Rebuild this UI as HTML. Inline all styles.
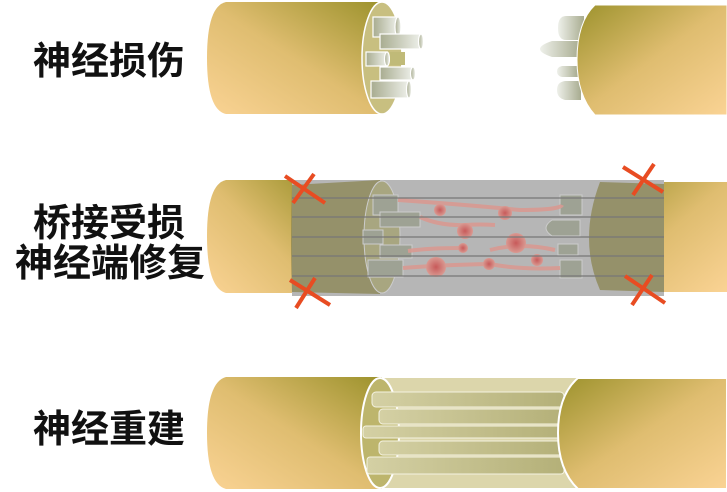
<!DOCTYPE html>
<html><head><meta charset="utf-8"><style>
html,body{margin:0;padding:0;background:#fff;width:727px;height:492px;overflow:hidden}
svg{display:block}
text{font-family:"Liberation Sans","Noto Sans CJK SC",sans-serif;font-weight:bold;font-size:38px;fill:#111}
</style></head><body>
<svg width="727" height="492" viewBox="0 0 727 492">
<defs>
<linearGradient id="nL" x1="0" y1="1" x2="1" y2="0"><stop offset="0" stop-color="#fad394"/><stop offset="0.5" stop-color="#dfbd70"/><stop offset="1" stop-color="#9c922c"/></linearGradient>
<linearGradient id="nR" x1="0" y1="0" x2="1" y2="1"><stop offset="0" stop-color="#9c922c"/><stop offset="0.5" stop-color="#dfbd70"/><stop offset="1" stop-color="#fad394"/></linearGradient>
<linearGradient id="fib" x1="0" y1="0" x2="1" y2="0"><stop offset="0" stop-color="#a8ac90"/><stop offset="1" stop-color="#eef0ea"/></linearGradient>
<linearGradient id="fibR" x1="0" y1="0" x2="1" y2="0"><stop offset="0" stop-color="#eef0ea"/><stop offset="1" stop-color="#a8ac90"/></linearGradient>
<linearGradient id="bfib" x1="0" y1="0" x2="1" y2="0"><stop offset="0" stop-color="#d4d0a4"/><stop offset="1" stop-color="#b4b078"/></linearGradient>
<radialGradient id="cell"><stop offset="0" stop-color="#c85a5a"/><stop offset="1" stop-color="#d99a92"/></radialGradient>
</defs>

<text x="33" y="74">神经损伤</text>
<text x="33" y="236">桥接受损</text>
<text x="15" y="276">神经端修复</text>
<text x="33" y="442">神经重建</text>

<!-- Top row -->
<g>
<path d="M226,2 L382,2 L382,114 L226,114 Q207,110 207,58 Q207,6 226,2Z" fill="url(#nL)"/>
<ellipse cx="382" cy="58" rx="20" ry="56" fill="#c8bf80" stroke="#fff" stroke-width="1.5"/>
<g stroke="#fff" stroke-width="1.2" fill="url(#fib)">
<rect x="373" y="17" width="25" height="20"/><ellipse cx="398" cy="27" rx="3" ry="10"/>
<rect x="380" y="34" width="41" height="15"/><ellipse cx="421" cy="41.5" rx="2.5" ry="7.5"/>
<rect x="366" y="52" width="21" height="14"/><ellipse cx="387" cy="59" rx="2.5" ry="7"/>
<rect x="380" y="67" width="33" height="13"/><ellipse cx="413" cy="73.5" rx="2.5" ry="6.5"/>
<rect x="371" y="81" width="38" height="17"/><ellipse cx="409" cy="89.5" rx="2.5" ry="8.5"/>
</g>
<rect x="390" y="52" width="15" height="13" fill="#c0ba78"/>
</g>
<g>
<g fill="url(#fibR)">
<path d="M566,16 L584,16 L584,40 L566,40 Q558,40 558,28 Q558,16 566,16Z"/>
<path d="M552,41 L580,41 L580,57 L552,57 Q540,53 540,49 Q540,45 552,41Z"/>
<path d="M562,66 L578,66 L578,77 L562,77 Q557,76 557,71.5 Q557,67 562,66Z"/>
<path d="M565,81 L581,81 L581,100 L565,100 Q557,98 557,90 Q557,82 565,81Z"/>
</g>
<path d="M595,5 L727,5 L727,115 L595,115 Q577,95 577,60 Q577,22 595,5Z" fill="url(#nR)" stroke="#fff" stroke-width="1"/>
</g>

<!-- Middle row -->
<g>
<path d="M226,180 L320,180 L320,293 L226,293 Q207,288 207,236 Q207,184 226,180Z" fill="url(#nL)"/>
<rect x="600" y="182" width="127" height="110" fill="url(#nR)"/>
<rect x="292" y="180" width="372" height="116" fill="#b6b6b6"/>
<path d="M292,185 L380,180 L380,294 L292,292 Q290,240 292,185Z" fill="#8a8450" opacity="0.75"/>
<ellipse cx="382" cy="237" rx="18" ry="56" fill="#a8a680" stroke="#ccc" stroke-width="1"/>
<path d="M600,182 L664,184 L664,292 L600,290 Q578,240 600,182Z" fill="#8a8450" opacity="0.75"/>
<g fill="#9ea294" stroke="#ccc" stroke-width="1">
<rect x="373" y="195" width="25" height="20"/><rect x="380" y="212" width="40" height="15"/>
<rect x="363" y="230" width="20" height="14"/><rect x="380" y="245" width="32" height="13"/>
<rect x="368" y="260" width="35" height="17"/>
<rect x="560" y="195" width="22" height="20"/><path d="M552,220 L580,220 L580,236 L552,236 Q540,228 552,220Z"/>
<rect x="558" y="244" width="20" height="11"/><rect x="560" y="260" width="22" height="18"/>
</g>
<g fill="none" stroke="#d99a92" stroke-width="4" opacity="0.9">
<path d="M398,200 Q470,205 520,210 Q560,210 562,205"/>
<path d="M420,217 Q440,226 465,225 Q480,224 495,225"/>
<path d="M408,251 Q430,248 460,248"/>
<path d="M490,250 Q520,242 555,250"/>
<path d="M403,268 Q440,265 490,264 Q520,270 560,268"/>
</g>
<g fill="url(#cell)">
<circle cx="440" cy="210" r="6"/><circle cx="505" cy="213" r="7"/><circle cx="465" cy="231" r="8"/>
<circle cx="463" cy="248" r="5"/><circle cx="516" cy="243" r="10"/><circle cx="537" cy="260" r="6"/>
<circle cx="436" cy="267" r="10"/><circle cx="489" cy="264" r="6"/>
</g>
<g stroke="#777" stroke-width="1.2">
<line x1="292" y1="198" x2="664" y2="198"/><line x1="292" y1="217" x2="664" y2="217"/>
<line x1="292" y1="237" x2="664" y2="237"/><line x1="292" y1="256" x2="664" y2="256"/>
<line x1="292" y1="276" x2="664" y2="276"/>
</g>
<g stroke="#e84c22" stroke-width="4">
<line x1="285" y1="176" x2="325" y2="203"/><line x1="314" y1="174" x2="293" y2="203"/>
<line x1="290" y1="280" x2="330" y2="305"/><line x1="315" y1="278" x2="296" y2="308"/>
<line x1="623" y1="167" x2="663" y2="192"/><line x1="654" y1="164" x2="633" y2="195"/>
<line x1="625" y1="276" x2="665" y2="303"/><line x1="652" y1="275" x2="632" y2="305"/>
</g>
</g>

<!-- Bottom row -->
<g>
<path d="M226,377 L382,377 L382,489 L226,489 Q207,484 207,433 Q207,382 226,377Z" fill="url(#nL)"/>
<rect x="380" y="378" width="200" height="110" fill="#dcd6ab"/>
<ellipse cx="380" cy="433" rx="19" ry="55" fill="#bdb56c" stroke="#fff" stroke-width="2"/>
<g fill="url(#bfib)" stroke="#f4f2e0" stroke-width="1">
<rect x="372" y="392" width="192" height="15" rx="4"/>
<rect x="379" y="409" width="185" height="15" rx="4"/>
<rect x="363" y="426" width="201" height="12" rx="3"/>
<rect x="379" y="441" width="185" height="14" rx="4"/>
<rect x="367" y="457" width="197" height="17" rx="3"/>
</g>
<path d="M578,378 L727,378 L727,489 L578,489 Q558,470 558,433 Q558,395 578,378Z" fill="url(#nR)" stroke="#fff" stroke-width="2"/>
</g>
</svg>
</body></html>
